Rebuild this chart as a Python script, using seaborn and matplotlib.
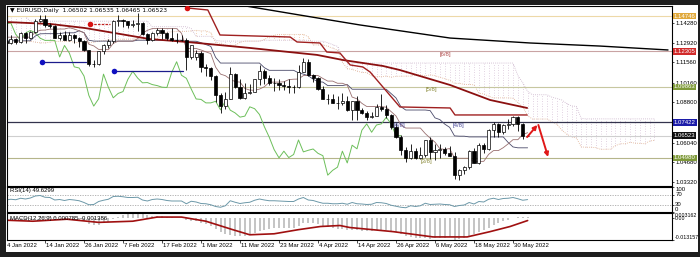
import matplotlib
matplotlib.use("Agg")
import matplotlib.pyplot as plt
import matplotlib.transforms as mtransforms
from matplotlib.patches import Rectangle
import numpy as np
import seaborn as sns

sns.set_theme(style="white")
plt.rcParams['font.family'] = ['Liberation Sans', 'DejaVu Sans']

# ---------------- data ----------------
open_ = [1.1300,1.1288,1.1313,1.1297,1.1359,1.1326,1.1368,1.1440,1.1456,1.1411,
         1.1405,1.1326,1.1343,1.1312,1.1345,1.1326,1.1301,1.1242,1.1143,1.1145,
         1.1234,1.1272,1.1305,1.1440,1.1450,1.1440,1.1416,1.1421,1.1426,1.1348,
         1.1308,1.1357,1.1375,1.1360,1.1322,1.1307,1.1309,1.1307,1.1193,1.1190,
         1.1219,1.1125,1.1117,1.1062,1.0928,1.0855,1.0905,1.1075,1.0984,1.0912,
         1.0942,1.0955,1.1039,1.1094,1.1048,1.1015,1.1017,1.1003,1.0996,1.0985,
         1.0985,1.1087,1.1160,1.1067,1.1046,1.0972,1.0904,1.0901,1.0877,1.0877,
         1.0888,1.0829,1.0890,1.0827,1.0808,1.0779,1.0786,1.0850,1.0837,1.0797,
         1.0713,1.0641,1.0556,1.0499,1.0545,1.0501,1.0522,1.0622,1.0540,1.0551,
         1.0560,1.0530,1.0514,1.0380,1.0413,1.0435,1.0545,1.0464,1.0586,1.0561,
         1.0689,1.0733,1.0675,1.0725,1.0733,1.0778,1.0733,1.06502]
high = [1.1323,1.1346,1.1320,1.1364,1.1364,1.1372,1.1452,1.1482,1.1483,1.1426,
        1.1416,1.1362,1.1369,1.1364,1.1349,1.1329,1.1310,1.1244,1.1173,1.1237,
        1.1283,1.1319,1.1450,1.1483,1.1454,1.1443,1.1449,1.1495,1.1432,1.1357,
        1.1368,1.1395,1.1391,1.1367,1.1395,1.1361,1.1343,1.1322,1.1274,1.1240,
        1.1234,1.1146,1.1124,1.1069,1.0945,1.0951,1.1121,1.1086,1.1044,1.1014,
        1.1008,1.1042,1.1137,1.1110,1.1069,1.1048,1.1039,1.1027,1.1038,1.0999,
        1.1138,1.1185,1.1176,1.1076,1.1052,1.0990,1.0938,1.0935,1.0922,1.0946,
        1.0922,1.0892,1.0924,1.0843,1.0818,1.0811,1.0866,1.0936,1.0860,1.0799,
        1.0742,1.0653,1.0571,1.0593,1.0567,1.0576,1.0624,1.0642,1.0594,1.0595,
        1.0577,1.0578,1.0542,1.0422,1.0444,1.0553,1.0565,1.0598,1.0600,1.0697,
        1.0748,1.0737,1.0732,1.0765,1.0787,1.0786,1.0738,1.06535]
low = [1.1272,1.1285,1.1285,1.1290,1.1286,1.1315,1.1356,1.1434,1.1399,1.1395,
       1.1321,1.1312,1.1311,1.1305,1.1287,1.1263,1.1237,1.1133,1.1121,1.1140,
       1.1216,1.1256,1.1289,1.1407,1.1398,1.1393,1.1398,1.1374,1.1346,1.1280,
       1.1304,1.1347,1.1314,1.1309,1.1301,1.1289,1.1302,1.1106,1.1180,1.1173,
       1.1087,1.1061,1.1036,1.0885,1.0806,1.0838,1.0901,1.0978,1.0902,1.0907,
       1.0937,1.0955,1.1001,1.1007,1.0999,1.0962,1.0965,1.0963,1.0944,1.0945,
       1.0982,1.1087,1.1061,1.1023,1.0967,1.0904,1.0869,1.0874,1.0838,1.0860,
       1.0821,1.0757,1.0758,1.0803,1.0760,1.0770,1.0786,1.0820,1.0772,1.0697,
       1.0637,1.0516,1.0471,1.0490,1.0490,1.0492,1.0505,1.0494,1.0483,1.0496,
       1.0517,1.0513,1.0354,1.0349,1.0389,1.0424,1.0461,1.0460,1.0532,1.0556,
       1.0642,1.0645,1.0661,1.0699,1.0716,1.0682,1.0627,1.06465]
close = [1.1288,1.1313,1.1297,1.1359,1.1326,1.1368,1.1440,1.1456,1.1411,1.1405,
         1.1326,1.1343,1.1312,1.1345,1.1326,1.1301,1.1242,1.1143,1.1145,1.1234,
         1.1272,1.1305,1.1440,1.1450,1.1440,1.1416,1.1421,1.1426,1.1348,1.1308,
         1.1357,1.1375,1.1360,1.1322,1.1307,1.1307,1.1307,1.1193,1.1272,1.1219,
         1.1125,1.1117,1.1062,1.0928,1.0855,1.0905,1.1075,1.0984,1.0912,1.0942,
         1.0955,1.1039,1.1094,1.1048,1.1015,1.1017,1.1003,1.0996,1.0985,1.0983,
         1.1087,1.1160,1.1067,1.1046,1.0972,1.0904,1.0901,1.0877,1.0877,1.0888,
         1.0829,1.0890,1.0827,1.0808,1.0779,1.0786,1.0850,1.0837,1.0797,1.0713,
         1.0641,1.0556,1.0499,1.0545,1.0501,1.0522,1.0622,1.0540,1.0551,1.0560,
         1.0530,1.0514,1.0380,1.0413,1.0435,1.0545,1.0464,1.0586,1.0561,1.0689,
         1.0733,1.0675,1.0725,1.0733,1.0778,1.0733,1.0650,1.06523]

tenkan = [1.1329,1.1329,1.1329,1.1329,1.1329,1.1329,1.1362,1.1377,1.1378,1.1384,
          1.1384,1.1385,1.1385,1.1394,1.1385,1.1373,1.1360,1.1280,1.1269,1.1245,
          1.1245,1.1243,1.1286,1.1302,1.1302,1.1302,1.1302,1.1318,1.1356,1.1376,
          1.1388,1.1388,1.1388,1.1388,1.1388,1.1388,1.1356,1.1251,1.1251,1.1251,
          1.1241,1.1228,1.1216,1.1123,1.1075,1.1064,1.1040,1.1023,1.1020,1.0976,
          1.0965,1.0964,1.0972,1.0988,1.1019,1.1020,1.1020,1.1022,1.1037,1.1040,
          1.1041,1.1065,1.1065,1.1065,1.1065,1.1045,1.1027,1.1027,1.1012,1.1012,
          1.0999,1.0917,1.0905,1.0874,1.0852,1.0852,1.0852,1.0852,1.0847,1.0817,
          1.0787,1.0726,1.0704,1.0704,1.0704,1.0704,1.0666,1.0635,1.0607,1.0562,
          1.0557,1.0563,1.0498,1.0496,1.0496,1.0496,1.0472,1.0474,1.0475,1.0523,
          1.0549,1.0549,1.0569,1.0595,1.0624,1.0624,1.0660,1.0672]
kijun = [1.1304,1.1304,1.1304,1.1304,1.1304,1.1304,1.1337,1.1352,1.1353,1.1353,
         1.1353,1.1353,1.1359,1.1359,1.1359,1.1373,1.1360,1.1308,1.1302,1.1302,
         1.1302,1.1302,1.1302,1.1302,1.1302,1.1302,1.1302,1.1308,1.1308,1.1308,
         1.1308,1.1308,1.1308,1.1308,1.1308,1.1308,1.1308,1.1301,1.1301,1.1301,
         1.1291,1.1278,1.1266,1.1190,1.1151,1.1151,1.1151,1.1151,1.1151,1.1151,
         1.1151,1.1151,1.1151,1.1119,1.1101,1.1101,1.1101,1.1101,1.1101,1.1101,
         1.1084,1.1075,1.1064,1.1040,1.1023,1.1020,1.0996,1.0996,1.0996,1.0996,
         1.1003,1.0971,1.0971,1.0971,1.0971,1.0971,1.0971,1.0971,1.0971,1.0941,
         1.0911,1.0851,1.0828,1.0828,1.0828,1.0828,1.0828,1.0824,1.0774,1.0762,
         1.0731,1.0709,1.0650,1.0648,1.0648,1.0643,1.0643,1.0643,1.0643,1.0643,
         1.0643,1.0643,1.0643,1.0605,1.0574,1.0568,1.0568,1.0568]
# cloud boundaries, one value per plotted position 0..133
senkou_a = [1.1290,1.1290,1.1295,1.1300,1.1300,1.1300,1.1295,1.1290,1.1290,1.1295,
            1.1300,1.1300,1.1300,1.1300,1.1295,1.1290,1.1290,1.1290,1.1295,1.1300,
            1.1305,1.1310,1.1310,1.1315,1.1315,1.1315,
            1.13165,1.13165,1.13165,1.13165,1.13165,1.13165,1.13495,1.13645,1.13655,1.13685,
            1.13685,1.1369,1.1372,1.13765,1.1372,1.1373,1.1360,1.1294,1.12855,1.12735,
            1.12735,1.12725,1.1294,1.1302,1.1302,1.1302,1.1302,1.1313,1.1332,1.1342,
            1.1348,1.1348,1.1348,1.1348,1.1348,1.1348,1.1332,1.1276,1.1276,1.1276,
            1.1266,1.1253,1.1241,1.11565,1.1113,1.11075,1.10955,1.1087,1.10855,1.10635,
            1.1058,1.10575,1.10615,1.10535,1.1060,1.10605,1.10605,1.10615,1.1069,1.10705,
            1.10625,1.1070,1.10645,1.10525,1.1044,1.10325,1.10115,1.10115,1.1004,1.1004,
            1.1001,1.0944,1.0938,1.09225,1.09115,1.09115,1.09115,1.09115,1.0909,1.0879,
            1.0849,1.07885,1.0766,1.0766,1.0766,1.0766,1.0747,1.07295,1.06905,1.0662,
            1.0644,1.0636,1.0574,1.0572,1.0572,1.05695,1.05575,1.05585,1.0559,1.0583,
            1.0596,1.0596,1.0606,1.0600,1.0599,1.0596,1.0614,1.0620]
senkou_b = [1.1470,1.1470,1.1470,1.1470,1.1470,1.1439,1.1439,1.1439,1.1439,1.1439,
            1.1439,1.1439,1.1439,1.1439,1.1439,1.1439,1.1439,1.1439,1.1439,1.1439,
            1.1439,1.1439,1.1439,1.1439,1.1439,1.1439,
            1.1439,1.1439,1.1439,1.1439,1.1401,1.1401,1.1401,1.1401,1.1401,1.1401,
            1.1401,1.1401,1.1388,1.1335,1.1335,1.1335,1.1335,1.1308,1.1302,1.1302,
            1.1302,1.1302,1.1302,1.1302,1.1302,1.1302,1.1302,1.1308,1.1308,1.1308,
            1.1308,1.1308,1.1308,1.1308,1.1308,1.1308,1.1308,1.1301,1.1301,1.1301,
            1.1291,1.1278,1.1266,1.1190,1.1151,1.1151,1.1151,1.1151,1.1151,1.1151,
            1.1151,1.1151,1.1151,1.1151,1.1151,1.1151,1.1151,1.1151,1.1151,1.1151,
            1.1151,1.1151,1.1151,1.1151,1.1151,1.1151,1.1151,1.1151,1.1151,1.1151,
            1.1151,1.1151,1.1151,1.1151,1.1151,1.1151,1.1151,1.1151,1.1151,1.1065,
            1.1016,1.0956,1.0933,1.0933,1.0933,1.0933,1.0916,1.0907,1.0897,1.0873,
            1.0856,1.0853,1.0770,1.0767,1.0767,1.0767,1.0767,1.0767,1.0767,1.0767,
            1.0767,1.0767,1.0767,1.0767,1.0767,1.0767,1.0767,1.0767]

ma_x = [0.2, 9, 16.2, 23.4, 29.5, 37.1, 50, 63.8, 69.1, 77.3, 80.8, 91.1, 99.3, 106.9]
ma_y = [1.1433, 1.1420, 1.1392, 1.1351, 1.1316, 1.1296, 1.1255, 1.1207, 1.1172,
        1.1131, 1.1103, 1.1000, 1.0897, 1.0842]
step_x = [37.1, 41.4, 43.9, 58.3, 59.7, 64.4, 65.8, 68.5, 70.6, 73.2, 74.7, 80.8,
          91.1, 92.1, 106.9]
step_y = [1.1530, 1.1516, 1.1344, 1.1330, 1.1296, 1.1289, 1.1227, 1.1220, 1.1138,
          1.1124, 1.1089, 1.0849, 1.0842, 1.0794, 1.0794]
black_x = [48, 60.3, 72.6, 91.1, 107.5, 121.8, 135.8]
black_y = [1.1550, 1.1481, 1.1413, 1.1323, 1.1289, 1.1268, 1.1241]

levels = [1.14746, 1.12305, 1.09863, 1.07422, 1.06523, 1.04980]
level_line_colors = ['#edd9a8', '#c9a3a3', '#c7c7a0', '#33334d', '#cfcfcf', '#b5b58a']
level_box_colors = ['#e0a83a', '#d12a2a', '#7f9a3a', '#1c1ca8', '#111111', '#7f9a3a']
murrey_text = ['[6/8]', '[5/8]', '[4/8]', '[4/8]', '[3/8]']
murrey_x = [89.0, 86.0, 79.6, 91.6, 85.0]
murrey_y = [1.1210, 1.0966, 1.0722, 1.0722, 1.0477]
murrey_col = ['#b04a4a', '#8a8a3a', '#4a4a9a', '#4a4a9a', '#8a8a3a']

blue_seg_x0 = [7.4, 22.2]
blue_seg_x1 = [16.4, 36.3]
blue_seg_y = [1.1158, 1.1096]
red_dot_x = [17.2, 37.1]
red_dot_y = [1.1420, 1.1530]
red_dash_x1 = 21.3
arrow_x = [106.9, 109.0, 109.2, 111.2]
arrow_y = [1.0642, 1.0725, 1.0725, 1.0505]

rsi = [48, 51, 49, 55, 52, 56, 64, 66, 59, 58,
       48, 50, 46, 50, 48, 45, 38, 29, 30, 42,
       47, 51, 62, 63, 61, 58, 58, 59, 48, 44,
       50, 52, 50, 46, 44, 44, 44, 33, 43, 40,
       34, 33, 29, 22, 19, 25, 45, 39, 34, 37,
       39, 47, 52, 48, 45, 45, 44, 43, 42, 42,
       52, 58, 48, 46, 40, 35, 35, 33, 33, 35,
       31, 38, 33, 32, 30, 31, 38, 37, 34, 27,
       23, 19, 17, 25, 22, 25, 35, 30, 31, 32,
       30, 29, 22, 26, 28, 38, 32, 42, 40, 51,
       55, 50, 54, 55, 58, 53, 47, 49.63]
macd_main = [-0.0015, -0.0016, -0.0017, -0.0012, -0.0010, -0.0006, 0.0003, 0.0012, 0.0014, 0.0012,
             0.0006, 0.0002, -0.0002, -0.0004, -0.0007, -0.0011, -0.0018, -0.0032, -0.0040, -0.0038,
             -0.0031, -0.0022, -0.0006, 0.0010, 0.0019, 0.0024, 0.0028, 0.003162, 0.0026, 0.0018,
             0.0015, 0.0015, 0.0014, 0.0010, 0.0006, 0.0003, 0.0000, -0.0012, -0.0015, -0.0018,
             -0.0027, -0.0036, -0.0047, -0.0064, -0.0082, -0.0098, -0.0102, -0.0106, -0.0110, -0.0108,
             -0.0100, -0.0090, -0.0078, -0.0070, -0.0066, -0.0062, -0.0061, -0.0060, -0.0059, -0.0058,
             -0.0044, -0.0028, -0.0028, -0.0030, -0.0036, -0.0045, -0.0054, -0.0060, -0.0066, -0.0068,
             -0.0070, -0.0072, -0.0074, -0.0076, -0.0078, -0.0078, -0.0074, -0.0070, -0.0072, -0.0080,
             -0.0086, -0.0098, -0.0110, -0.0116, -0.0120, -0.0122, -0.0120, -0.0124, -0.0122, -0.0120,
             -0.0118, -0.0116, -0.013157, -0.0125, -0.0118, -0.0110, -0.0098, -0.0086, -0.0074, -0.0058,
             -0.0042, -0.0030, -0.0018, -0.0008, 0.0002, 0.0008, 0.0006, 0.000785]
signal_x = [0, 5.5, 12.5, 19, 26, 31, 36, 41, 46.5, 50, 55, 60, 64.5, 68.5, 70.5,
            79.4, 87.6, 94.6, 99.3, 103.4, 107]
signal_y = [-0.0012, -0.0018, -0.0006, -0.0025, -0.0018, 0.0007, 0.0007, -0.0018,
            -0.0069, -0.0100, -0.0094, -0.0069, -0.0050, -0.0044, -0.0056, -0.0081,
            -0.0113, -0.0113, -0.0081, -0.0050, -0.0014]

date_tick_idx = [0, 8, 16, 24, 32, 40, 48, 56, 64, 72, 80, 88, 96, 104]
date_tick_lbl = ['4 Jan 2022', '14 Jan 2022', '26 Jan 2022', '7 Feb 2022', '17 Feb 2022',
                 '1 Mar 2022', '11 Mar 2022', '23 Mar 2022', '4 Apr 2022', '14 Apr 2022',
                 '26 Apr 2022', '6 May 2022', '18 May 2022', '30 May 2022']
price_ticks = [1.14280, 1.12920, 1.11560, 1.10160, 1.08800, 1.06040, 1.04680, 1.03320]

# ---------------- layout helpers ----------------
W, H = 700, 257
def rect(x0, y0, x1, y1):
    return [x0 / W, 1 - y1 / H, (x1 - x0) / W, (y1 - y0) / H]

FS = 4.3
fig = plt.figure(figsize=(7, 2.57), dpi=100, facecolor='#1e1e1e')
fig.patches.append(Rectangle((6 / W, 1 - 252 / H), 692 / W, 247 / H, transform=fig.transFigure,
                             facecolor='white', edgecolor='none', zorder=-5))

XL = ((7 - 6) / 4.875, (672 - 6) / 4.875)

def style_axis(ax, fs=FS):
    for s in ax.spines.values():
        s.set_color('black')
        s.set_linewidth(0.8)
    ax.set_facecolor('white')
    ax.set_xlim(*XL)
    ax.yaxis.tick_right()
    ax.tick_params(axis='y', which='both', direction='out', length=1.5, width=0.5,
                   labelsize=fs, pad=0.8, colors='black', left=False, right=True)
    ax.tick_params(axis='x', bottom=False, labelbottom=False)
    ax.grid(False)
    ax.set_xlabel('')
    ax.set_ylabel('')

# ---------------- main price panel ----------------
ax = fig.add_axes(rect(7, 6, 672, 186))
style_axis(ax)
ax.set_ylim(1.03054, 1.15434)

x = np.arange(len(close))
j = np.arange(len(senkou_a))
sa = np.array(senkou_a); sb = np.array(senkou_b)
cloud_cols = np.where(sa >= sb, '#efc4a0', '#d8c4d8')
ax.vlines(j, sa, sb, colors=cloud_cols, linestyles=(0, (1, 2)), linewidth=0.6, zorder=1)
ax.plot(j, sa, color='#e0b090', linestyle=(0, (1, 1.5)), linewidth=0.6, zorder=1)
ax.plot(j, sb, color='#c8b0c8', linestyle=(0, (1, 1.5)), linewidth=0.6, zorder=1)

for lv, lc in zip(levels, level_line_colors):
    ax.axhline(lv, color=lc, linewidth=0.9 if lc == '#33334d' else 0.8, zorder=1.5)

sns.lineplot(x=x - 26, y=close, ax=ax, color='#6cbf5a', linewidth=0.7, zorder=2)
sns.lineplot(x=x, y=kijun, ax=ax, color='#4a4a6a', linewidth=0.6, zorder=2)
sns.lineplot(x=x, y=tenkan, ax=ax, color='#9a7070', linewidth=0.6, zorder=2)
sns.lineplot(x=ma_x, y=ma_y, ax=ax, color='#8b1010', linewidth=1.3, zorder=2.5)
ax.plot(step_x, step_y, color='#a02020', linewidth=1.0, zorder=2.5)
ax.plot(black_x, black_y, color='black', linewidth=1.0, zorder=2.5)

# candles
o = np.array(open_); c = np.array(close); h = np.array(high); l = np.array(low)
ax.vlines(x, l, h, color='black', linewidth=0.6, zorder=3)
body_b = np.minimum(o, c)
body_h = np.maximum(np.abs(c - o), 0.00012)
body_col = np.where(c >= o, 'white', 'black')
ax.bar(x, body_h, bottom=body_b, width=0.62, color=body_col, edgecolor='black',
       linewidth=0.5, zorder=4)

# objects
for x0, x1, yv in zip(blue_seg_x0, blue_seg_x1, blue_seg_y):
    ax.plot([x0, x1], [yv, yv], color='#1c1c8c', linewidth=0.9, zorder=5)
    ax.scatter([x0], [yv], s=16, color='#1010c0', zorder=6, linewidths=0)
ax.scatter(red_dot_x, red_dot_y, s=16, color='#d81010', zorder=6, linewidths=0)
ax.plot([red_dot_x[0], red_dash_x1], [red_dot_y[0], red_dot_y[0]], color='#c02020',
        linewidth=0.9, linestyle=(0, (2, 1)), zorder=5)
ax.annotate('', xy=(arrow_x[1], arrow_y[1]), xytext=(arrow_x[0], arrow_y[0]),
            arrowprops=dict(arrowstyle='-|>', color='#e01818', lw=1.4, mutation_scale=6,
                            shrinkA=0, shrinkB=0), zorder=7)
ax.annotate('', xy=(arrow_x[3], arrow_y[3]), xytext=(arrow_x[2], arrow_y[2]),
            arrowprops=dict(arrowstyle='-|>', color='#e01818', lw=1.4, mutation_scale=6,
                            shrinkA=0, shrinkB=0), zorder=7)
for t, mx, my, mc in zip(murrey_text, murrey_x, murrey_y, murrey_col):
    ax.text(mx, my, t, fontsize=FS, color=mc, ha='left', va='center', zorder=6)

ax.set_yticks(price_ticks)
ax.set_yticklabels([f'{v:.5f}' for v in price_ticks])
trans = mtransforms.blended_transform_factory(ax.transAxes, ax.transData)
for lv, bc in zip(levels, level_box_colors):
    ax.text(1.003, lv, f'{lv:.5f}', transform=trans, fontsize=FS, color='white',
            ha='left', va='center', clip_on=False, zorder=10,
            bbox=dict(boxstyle='square,pad=0.12', facecolor=bc, edgecolor='none'))
ax.text(0.005, 0.975, '\u25BC EURUSD,Daily  1.06502 1.06535 1.06465 1.06523',
        transform=ax.transAxes, fontsize=FS, color='black', ha='left', va='center',
        zorder=10, family=['DejaVu Sans'])

# ---------------- RSI panel ----------------
ar = fig.add_axes(rect(7, 187, 672, 212))
style_axis(ar)
ar.set_ylim(0, 100)
ar.axhline(70, color='#a8a8a8', linestyle=(0, (1.5, 1.5)), linewidth=0.6)
ar.axhline(30, color='#a8a8a8', linestyle=(0, (1.5, 1.5)), linewidth=0.6)
sns.lineplot(x=x, y=rsi, ax=ar, color='#6c98a8', linewidth=0.7)
ar.set_yticks([100, 70, 30, 0])
ar.set_yticklabels(['100', '70', '30', '0'])
for lab, va in zip(ar.get_yticklabels(), ['top', 'center', 'center', 'bottom']):
    lab.set_va(va)
ar.text(0.005, 0.85, 'RSI(14) 49.6299', transform=ar.transAxes, fontsize=FS,
        color='black', ha='left', va='center')

# ---------------- MACD panel ----------------
am = fig.add_axes(rect(7, 213, 672, 240))
style_axis(am, fs=3.8)
am.set_ylim(-0.013157, 0.003162)
am.vlines(x, 0, macd_main, color='#b4b4b4', linewidth=1.1)
sns.lineplot(x=signal_x, y=signal_y, ax=am, color='#a01010', linewidth=1.2)
am.set_yticks([0.003162, 0.0, -0.013157])
am.set_yticklabels(['0.003162', '0.00', '-0.013157'])
for lab, va in zip(am.get_yticklabels(), ['top', 'center', 'bottom']):
    lab.set_va(va)
am.tick_params(axis='y', pad=0.5)
am.text(0.005, 0.78, 'MACD(12,26,9) 0.000785 -0.001386', transform=am.transAxes,
        fontsize=FS, color='black', ha='left', va='center')
am.set_xticks([t for t in date_tick_idx if t >= XL[0]])
am.tick_params(axis='x', bottom=True, labelbottom=False, direction='out', length=2,
               width=0.5, colors='black')
tx = mtransforms.blended_transform_factory(am.transData, am.transAxes)
for t, lbl in zip(date_tick_idx, date_tick_lbl):
    am.text(t + 0.25, -0.22, lbl, transform=tx, fontsize=FS, color='black',
            ha='left', va='center', clip_on=False)
am.set_xlim(*XL)

fig.savefig('out.png', dpi=100, facecolor=fig.get_facecolor())
